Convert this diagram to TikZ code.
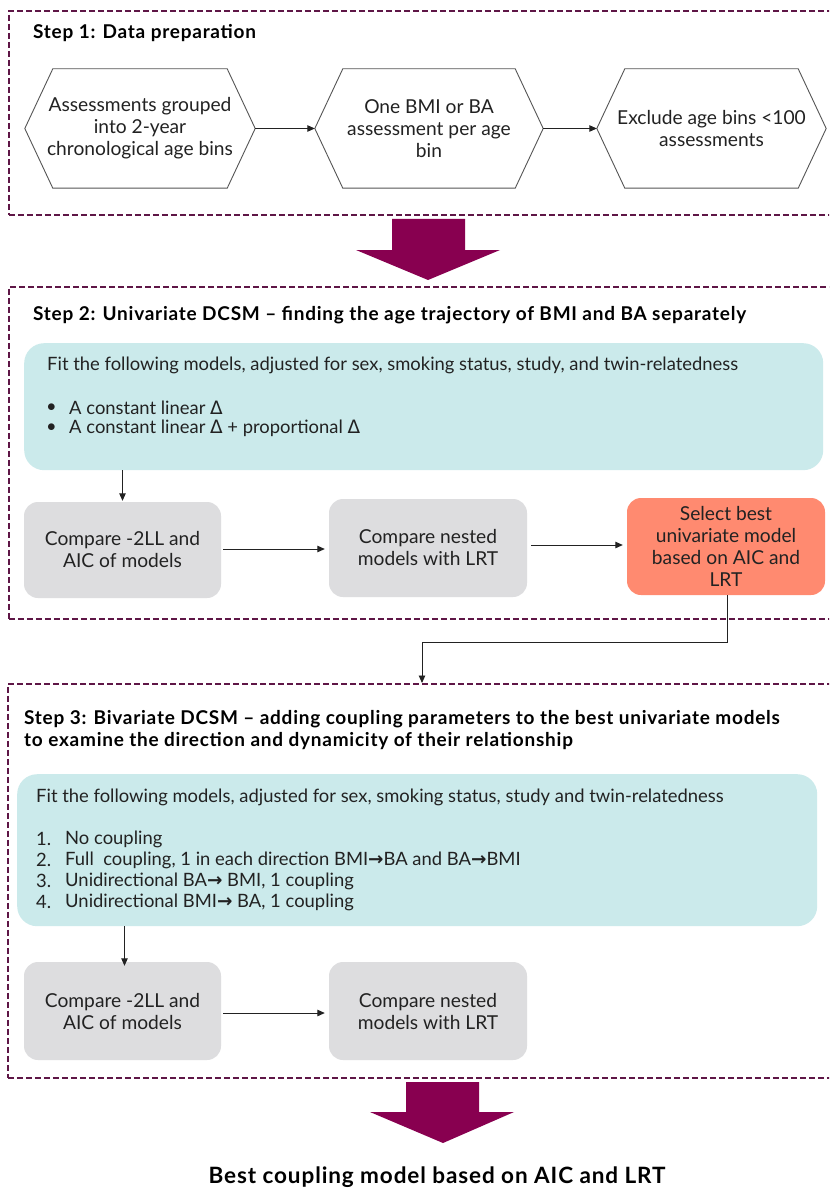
\documentclass[tikz,border=0pt]{standalone}
\usepackage{fontspec}
\setmainfont{Lato}
\newfontfamily\symfont{DejaVu Sans}
\usetikzlibrary{arrows.meta}
\definecolor{framec}{HTML}{5E1646}
\definecolor{bigarrowc}{HTML}{880050}
\definecolor{tealc}{HTML}{CBEAEB}
\definecolor{greyc}{HTML}{DDDDDF}
\definecolor{orangec}{HTML}{FF8A70}
\definecolor{inkc}{HTML}{222222}
\definecolor{hexc}{HTML}{555555}
\newcommand{\boxsize}{\fontsize{19.2}{22}\selectfont}
\newcommand{\bodysize}{\fontsize{18.4}{21.5}\selectfont}
\newcommand{\titlesize}{\fontsize{19}{22}\selectfont\addfontfeature{LetterSpace=4}}
\newcommand{\Dl}{{\symfont Δ}}
\newcommand{\rarr}{{\symfont\bfseries →}}
\begin{document}
\begin{tikzpicture}[x=1pt,y=-1pt,
  frame/.style={draw=framec, line width=1.9pt, dash pattern=on 6pt off 3pt,
    rectangle, anchor=north west, inner sep=0pt},
  hexbox/.style={minimum height=119pt, align=center, inner sep=0pt, text=inkc, font=\boxsize},
  hexline/.style={draw=hexc, line width=0.9pt, line join=miter},
  tealbox/.style={fill=tealc, rounded corners=20pt, rectangle, inner sep=0pt},
  greybox/.style={fill=greyc, rounded corners=14pt, rectangle, inner sep=0pt,
    align=center, text=inkc, font=\boxsize},
  orangebox/.style={greybox, fill=orangec},
  titletext/.style={anchor=west, inner sep=0pt, font=\bfseries\titlesize, text=black},
  bodytext/.style={anchor=west, inner sep=0pt, font=\bodysize, text=inkc},
  flow/.style={draw=inkc, line width=0.9pt, -{Triangle[length=7.5pt,width=6.5pt]}},
  bigarrow/.style={fill=bigarrowc, draw=none}
]
\clip (0,0) rectangle (829,1190);
\fill[white] (0,0) rectangle (829,1190);

% ---------- Step 1 ----------
\node[frame, minimum width=850pt, minimum height=204pt] (s1) at (8,10) {};
\node[titletext] (t1) at (33,33) {Step 1: Data preparation};

\node[hexbox, minimum width=230pt] (h1) at (140,128.5)
  {Assessments grouped\\into 2-year\\chronological age bins};
\node[hexbox, minimum width=228pt] (h2) at (429,128.5)
  {One BMI or BA\\assessment per age\\bin};
\node[hexbox, minimum width=229pt] (h3) at (711.5,128.5)
  {Exclude age bins <100\\assessments};
\foreach \h in {h1,h2,h3}{
  \draw[hexline] (\h.west) -- ([xshift=28pt]\h.north west) -- ([xshift=-28pt]\h.north east)
    -- (\h.east) -- ([xshift=-28pt]\h.south east) -- ([xshift=28pt]\h.south west) -- cycle;
}
\draw[flow] (h1.east) -- (h2.west);
\draw[flow] (h2.east) -- (h3.west);

% big arrow between step 1 and step 2
\fill[bigarrow] (392,219) -- (465,219) -- (465,250) -- (500,250) -- (428,280)
  -- (356,250) -- (392,250) -- cycle;

% ---------- Step 2 ----------
\node[frame, minimum width=850pt, minimum height=332pt] (s2) at (8,286) {};
\node[titletext] (t2) at (33,315)
  {Step 2: Univariate DCSM -- finding the age trajectory of BMI and BA separately};

\node[tealbox, minimum width=799pt, minimum height=127pt, anchor=north west] (fit1) at (24,343) {};
\node[bodytext] (f1) at (47,365)
  {Fit the following models, adjusted for sex, smoking status, study, and twin-relatedness};
\node[bodytext] (b1) at (47,408) {$\bullet$};
\node[bodytext] (l1) at (69,408) {A constant linear \Dl};
\node[bodytext] (b2) at (47,428) {$\bullet$};
\node[bodytext] (l2) at (69,428) {A constant linear \Dl{} + proportional \Dl};

\node[greybox, minimum width=197pt, minimum height=96pt] (g1) at (122.5,550)
  {Compare -2LL and\\AIC of models};
\node[greybox, minimum width=198pt, minimum height=98pt] (g2) at (428,548)
  {Compare nested\\models with LRT};
\node[orangebox, minimum width=198pt, minimum height=97pt] (o1) at (726,546.5)
  {Select best\\univariate model\\based on AIC and\\LRT};

\draw[flow] (g1.north |- fit1.south) -- ([yshift=1pt]g1.north);
\draw[flow, shorten <=2pt, shorten >=4pt] ([yshift=1pt]g1.east) -- ([yshift=1pt]g1.east -| g2.west);
\draw[flow, shorten <=4pt, shorten >=4pt] ([yshift=3pt]g2.east) -- ([yshift=3pt]g2.east -| o1.west);

% connector from step 2 into step 3
\coordinate (j) at (422,642);
\node[frame, minimum width=850pt, minimum height=394pt] (s3) at (7,683) {};
\draw[flow] ([xshift=1pt]o1.south) |- (j) -- (j |- s3.north);

% ---------- Step 3 ----------
\node[titletext] (t3a) at (24,719)
  {Step 3: Bivariate DCSM -- adding coupling parameters to the best univariate models};
\node[titletext] (t3b) at (24,741)
  {to examine the direction and dynamicity of their relationship};

\node[tealbox, minimum width=800pt, minimum height=152pt, anchor=north west] (fit2) at (17,774) {};
\node[bodytext] (f2) at (36,797)
  {Fit the following models, adjusted for sex, smoking status, study and twin-relatedness};
\node[bodytext] (n1) at (36,839) {1.};
\node[bodytext] (m1) at (65,839) {No coupling};
\node[bodytext] (n2) at (36,860) {2.};
\node[bodytext] (m2) at (65,860) {Full\ \ coupling, 1 in each direction BMI\rarr BA and BA\rarr BMI};
\node[bodytext] (n3) at (36,881) {3.};
\node[bodytext] (m3) at (65,881) {Unidirectional BA\rarr{} BMI, 1 coupling};
\node[bodytext] (n4) at (36,902) {4.};
\node[bodytext] (m4) at (65,902) {Unidirectional BMI\rarr{} BA, 1 coupling};

\node[greybox, minimum width=197pt, minimum height=98pt] (g3) at (122.5,1011)
  {Compare -2LL and\\AIC of models};
\node[greybox, minimum width=198pt, minimum height=98pt] (g4) at (428,1011)
  {Compare nested\\models with LRT};

\draw[flow] ([xshift=2pt]g3.north |- fit2.south) -- ([xshift=2pt,yshift=-4pt]g3.north);
\draw[flow, shorten <=2pt, shorten >=4pt] ([yshift=-2pt]g3.east) -- ([yshift=-2pt]g3.east -| g4.west);

% big arrow to the result
\fill[bigarrow] (406,1082) -- (479,1082) -- (479,1112) -- (514,1112) -- (443,1143)
  -- (370,1112) -- (406,1112) -- cycle;
\node[anchor=center, inner sep=0pt, font=\bfseries\fontsize{22.5}{26}\selectfont\addfontfeature{LetterSpace=4}, text=black] (res) at (437,1177)
  {Best coupling model based on AIC and LRT};
\end{tikzpicture}
\end{document}
